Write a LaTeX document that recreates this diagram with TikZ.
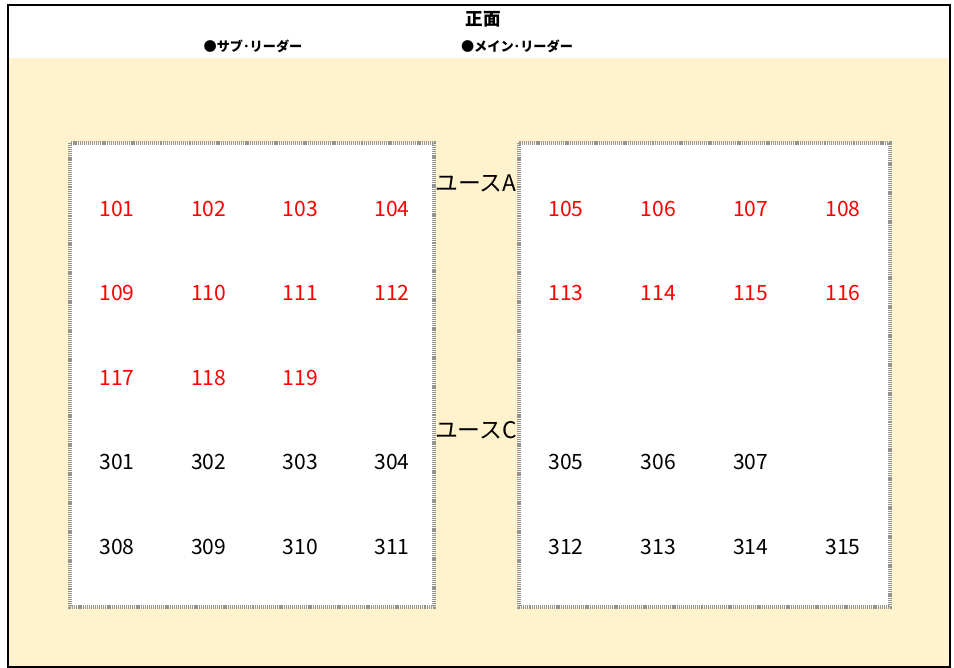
\documentclass[tikz,border=0pt]{standalone}
\usepackage{fontspec}
\setmainfont{Noto Sans CJK JP}
\definecolor{cream}{HTML}{FFF2CC}
\newcommand{\numsize}{\fontsize{12}{14}\selectfont}
\newcommand{\lblsize}{\fontsize{13}{15}\selectfont}

\begin{document}
\begin{tikzpicture}[x=0.02cm,y=-0.02cm,
    redno/.style={text=red, font=\numsize, inner sep=1pt},
    blkno/.style={text=black, font=\numsize, inner sep=1pt},
    room/.style={draw=gray!85, fill=white, line width=2pt, dash pattern=on 0.6pt off 0.5pt}]
\useasboundingbox (0,0) rectangle (954,668);

          %% background and frame
      \fill[cream] (8,58) rectangle (950,667);
      \draw[line width=0.6pt] (8,5) rectangle (950,667);
      \draw[line width=1.5pt] (8,5) -- (950,5) -- (950,667);

          %% heading
      \node (front) at (483,19) [font=\bfseries\fontsize{10}{12}\selectfont] {正面};
      \node (sub) at (253,46) [font=\bfseries\fontsize{7.5}{9}\selectfont] {●サブ･リーダー};
      \node (main) at (517,46) [font=\bfseries\fontsize{7.5}{9}\selectfont] {●メイン･リーダー};

          %% the two blocks
      \draw[room] (70,143) rectangle (434,607);
      \draw[room] (519,143) rectangle (890,607);
      \node (youthA) at (476,183) [font=\lblsize, inner sep=0pt] {ユースA};
      \node (youthC) at (476,430) [font=\lblsize, inner sep=0pt] {ユースC};

          %% seat numbers
      \foreach \n [count=\i from 0] in {101,102,103,104}
      { \node[redno] (n\n) at (117+91.7*\i,209) {\n};}
      \foreach \n [count=\i from 0] in {105,106,107,108}
      { \node[redno] (n\n) at (566+92.3*\i,209) {\n};}
      \foreach \n [count=\i from 0] in {109,110,111,112}
      { \node[redno] (n\n) at (117+91.7*\i,293) {\n};}
      \foreach \n [count=\i from 0] in {113,114,115,116}
      { \node[redno] (n\n) at (566+92.3*\i,293) {\n};}
      \foreach \n [count=\i from 0] in {117,118,119}
      { \node[redno] (n\n) at (117+91.7*\i,378) {\n};}
      \foreach \n [count=\i from 0] in {301,302,303,304}
      { \node[blkno] (n\n) at (117+91.7*\i,462) {\n};}
      \foreach \n [count=\i from 0] in {305,306,307}
      { \node[blkno] (n\n) at (566+92.3*\i,462) {\n};}
      \foreach \n [count=\i from 0] in {308,309,310,311}
      { \node[blkno] (n\n) at (117+91.7*\i,547) {\n};}
      \foreach \n [count=\i from 0] in {312,313,314,315}
      { \node[blkno] (n\n) at (566+92.3*\i,547) {\n};}

\end{tikzpicture}
\end{document}
